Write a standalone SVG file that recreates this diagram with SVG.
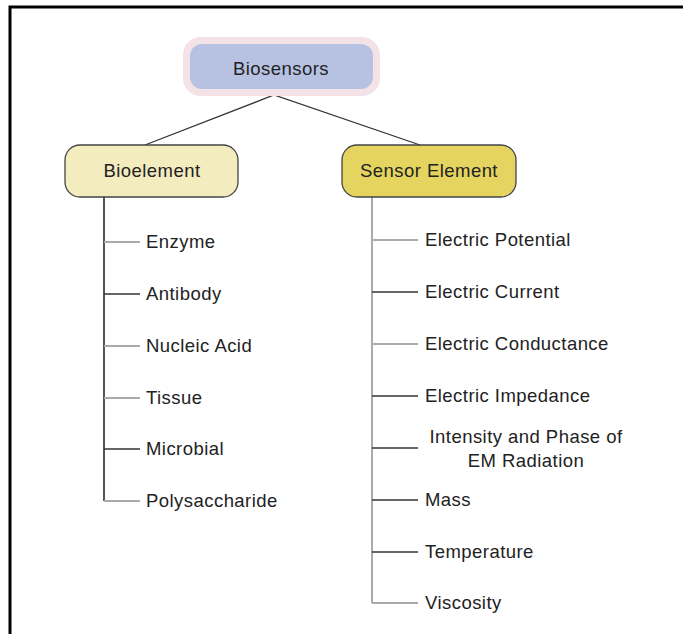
<svg xmlns="http://www.w3.org/2000/svg" width="683" height="634" viewBox="0 0 683 634">
<style>
text{font-family:"Liberation Sans",Arial,sans-serif;font-size:18.5px;letter-spacing:0.45px;fill:#222}
.c{text-anchor:middle}
.lt{stroke:#aaa;stroke-width:2;fill:none}
.dk{stroke:#333;stroke-width:1.3;fill:none}
.box{stroke:#444;stroke-width:1.3}
</style>
<rect width="683" height="634" fill="#fff"/>
<path d="M10,640 V7 H690" fill="none" stroke="#000" stroke-width="3"/>
<g id="connectors">
<path class="dk" d="M145,145 L274,95 L420,145"/>
<path d="M104,197 V501" stroke="#555" stroke-width="2" fill="none"/>
<path class="lt" d="M104,242 H140"/>
<path class="dk" d="M104,294 H140"/>
<path class="lt" d="M104,346 H140"/>
<path class="lt" d="M104,398 H140"/>
<path class="dk" d="M104,449 H140"/>
<path class="lt" d="M104,501 H140"/>
<path class="lt" d="M372,197 V603"/>
<path class="lt" d="M372,240 H418"/>
<path class="dk" d="M372,292 H418"/>
<path class="lt" d="M372,344 H418"/>
<path class="dk" d="M372,396 H418"/>
<path class="dk" d="M372,448 H418"/>
<path class="dk" d="M372,500 H418"/>
<path class="dk" d="M372,552 H418"/>
<path class="lt" d="M372,603 H418"/>
</g>
<g id="biosensors">
<rect x="183" y="37" width="197" height="59" rx="18" fill="#f3e3e6"/>
<rect x="190" y="44" width="183" height="45" rx="12" fill="#b7c2e2"/>
<text class="c" x="281" y="75">Biosensors</text>
</g>
<g id="bioelement">
<rect class="box" x="65" y="145" width="173" height="52" rx="15" fill="#f3ecbf"/>
<text class="c" x="152" y="177">Bioelement</text>
</g>
<g id="sensor-element">
<rect class="box" x="342" y="145" width="174" height="52" rx="15" fill="#e5d560"/>
<text class="c" x="429" y="177">Sensor Element</text>
</g>
<g id="bio-items">
<text x="146" y="248">Enzyme</text>
<text x="146" y="300">Antibody</text>
<text x="146" y="352">Nucleic Acid</text>
<text x="146" y="404">Tissue</text>
<text x="146" y="455">Microbial</text>
<text x="146" y="507">Polysaccharide</text>
</g>
<g id="sensor-items">
<text x="425" y="246">Electric Potential</text>
<text x="425" y="298">Electric Current</text>
<text x="425" y="350">Electric Conductance</text>
<text x="425" y="402">Electric Impedance</text>
<text class="c" x="526" y="443">Intensity and Phase of</text>
<text class="c" x="526" y="467">EM Radiation</text>
<text x="425" y="506">Mass</text>
<text x="425" y="558">Temperature</text>
<text x="425" y="609">Viscosity</text>
</g>
</svg>
